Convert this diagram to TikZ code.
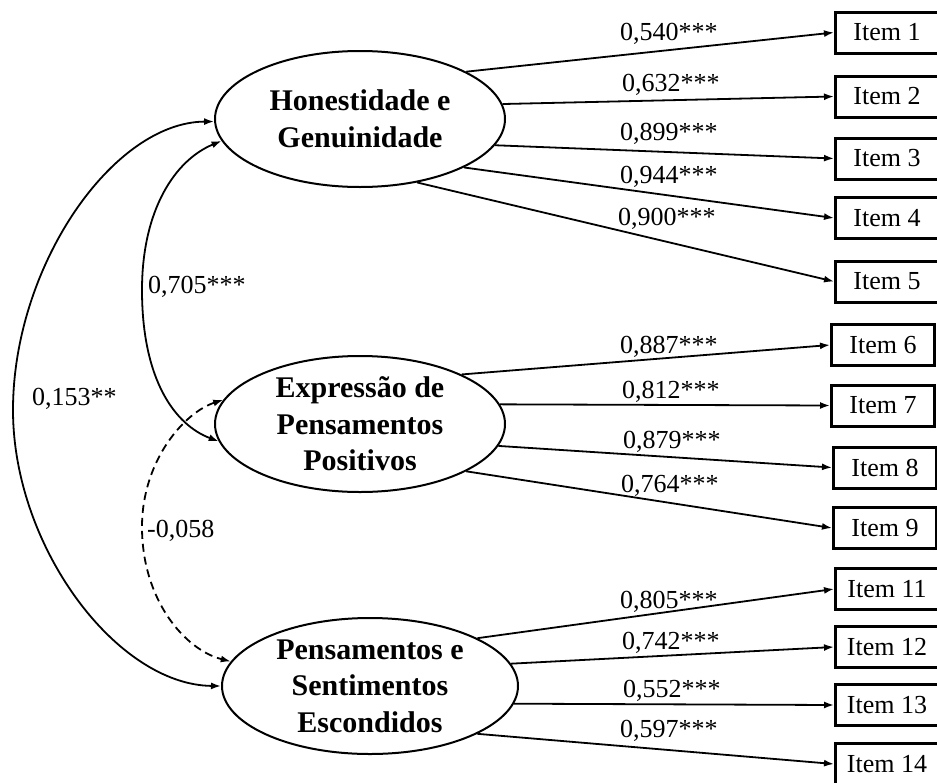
\documentclass[tikz,border=0pt]{standalone}
\usepackage{fontspec}
\setmainfont{Liberation Serif}
\usetikzlibrary{arrows.meta,shapes.geometric}
\begin{document}
\begin{tikzpicture}[x=1pt,y=-1pt,
  >={Latex[length=10pt,width=7pt]},
  latent/.style={draw, ellipse, line width=2pt, minimum width=290pt, minimum height=136pt, inner sep=0pt},
  lattext/.style={align=center, inner sep=0pt, font=\fontsize{30}{36.5}\selectfont\bfseries},
  itembox/.style={draw, rectangle, line width=3pt, minimum width=103pt, minimum height=41pt, inner sep=0pt, anchor=west, font=\fontsize{26}{30}\selectfont},
  load/.style={line width=1.8pt, ->},
  cov/.style={line width=1.8pt, <->},
  lbl/.style={font=\fontsize{26}{30}\selectfont, inner sep=0pt, anchor=base west}
]
\useasboundingbox (0,0) rectangle (937,782);

% latent variables
\node[latent] (H) at (360,119) {};
\node[lattext] (Ht) at (H.center) {Honestidade e\\Genuinidade};
\node[latent] (E) at (360,424) {};
\node[lattext] (Et) at (E.center) {Expressão de\\Pensamentos\\Positivos};
\node[latent, minimum width=296pt] (P) at (370,686) {};
\node[lattext] (Pt) at (P.center) {Pensamentos e\\Sentimentos\\Escondidos};

% items
\node[itembox] (i1) at (834,32.5) {Item 1};
\node[itembox] (i2) at (834,96.5) {Item 2};
\node[itembox] (i3) at (834,158.5) {Item 3};
\node[itembox] (i4) at (834,218) {Item 4};
\node[itembox] (i5) at (834,281.5) {Item 5};
\node[itembox] (i6) at (830,345) {Item 6};
\node[itembox] (i7) at (830,405.5) {Item 7};
\node[itembox] (i8) at (832,467.5) {Item 8};
\node[itembox] (i9) at (832,528) {Item 9};
\node[itembox] (i11) at (834,589) {Item 11};
\node[itembox] (i12) at (834,647) {Item 12};
\node[itembox] (i13) at (834,705) {Item 13};
\node[itembox] (i14) at (834,764) {Item 14};

% loadings
\draw[load] (H.24) -- (i1.west);
\draw[load] (H.6.4) -- (i2.west);
\draw[load] (H.-11.2) -- (i3.west);
\draw[load] (H.-25.3) -- (i4.west);
\draw[load] (H.-48) -- (i5.west);
\draw[load] (E.26) -- (i6.west);
\draw[load] (E.8.4) -- (i7.west);
\draw[load] (E.-9.1) -- (i8.west);
\draw[load] (E.-24.1) -- (i9.west);
\draw[load] (P.24) -- (i11.west);
\draw[load] (P.9.7) -- (i12.west);
\draw[load] (P.-7.9) -- (i13.west);
\draw[load] (P.-24.2) -- (i14.west);

% loading labels
\node[lbl] (l1) at (620,40) {0,540***};
\node[lbl] (l2) at (622,91) {0,632***};
\node[lbl] (l3) at (620,140) {0,899***};
\node[lbl] (l4) at (620,183) {0,944***};
\node[lbl] (l5) at (618,225) {0,900***};
\node[lbl] (l6) at (620,353) {0,887***};
\node[lbl] (l7) at (622,398) {0,812***};
\node[lbl] (l8) at (623,448) {0,879***};
\node[lbl] (l9) at (621,492) {0,764***};
\node[lbl] (l11) at (620,608) {0,805***};
\node[lbl] (l12) at (622,649) {0,742***};
\node[lbl] (l13) at (623,697) {0,552***};
\node[lbl] (l14) at (620,737) {0,597***};

% covariances
\coordinate (k153) at (13,410);
\coordinate (k705) at (142,290);
\coordinate (k058) at (142,527);
\draw[cov] (H.181) .. controls (113,122) and (13,266) .. (k153)
  .. controls (13,547) and (117,685) .. (P.180);
\draw[cov] (H.189.3) .. controls (175,160) and (142,210) .. (k705)
  .. controls (142,380) and (175,425) .. (E.187.7);
\draw[cov, dash pattern=on 8pt off 5pt] (E.170.3) .. controls (185,412) and (142,460) .. (k058)
  .. controls (142,600) and (185,650) .. (P.170.7);

\node[lbl] (c1) at (148,293) {0,705***};
\node[lbl] (c2) at (32,405) {0,153**};
\node[lbl] (c3) at (147,537) {-0,058};
\end{tikzpicture}
\end{document}
